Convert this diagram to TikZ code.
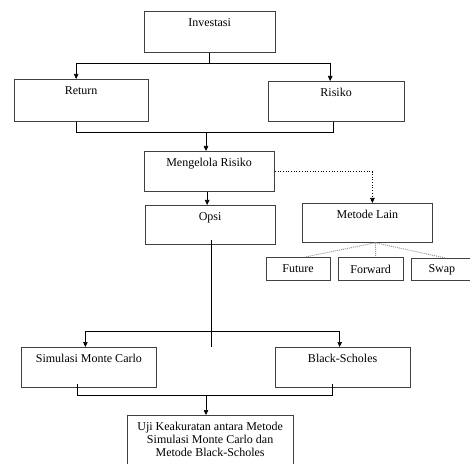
\documentclass[tikz,border=0pt]{standalone}
\usepackage{fontspec}
\setmainfont{Liberation Serif}
\usetikzlibrary{arrows.meta}

\tikzset{
  box/.style={draw=black!75,line width=0.8pt,anchor=north west,inner sep=0pt},
  toptext/.style={label={[anchor=north,yshift=-4pt,align=center,font=\fontsize{12}{13}\selectfont]north:#1}},
  smallbox/.style={draw=black!75,line width=0.8pt,anchor=north west,inner sep=0pt,font=\fontsize{12}{13}\selectfont},
  arr/.style={line width=0.7pt,-{Triangle[length=5pt,width=4.5pt]}},
  link/.style={line width=0.7pt},
  dotlink/.style={line width=0.7pt,dotted},
  fanlink/.style={line width=1pt,densely dotted,black!40}
}

\begin{document}
\begin{tikzpicture}[x=1pt,y=1pt]
  \useasboundingbox (0,0) rectangle (470,463);
  % boxes
  \node[box,toptext={Investasi},minimum width=131.5pt,minimum height=41pt] (inv) at (143.5,452) {};
  \node[box,toptext={Return},minimum width=134.5pt,minimum height=42pt] (ret) at (13.5,384) {};
  \node[box,toptext={Risiko},minimum width=136.5pt,minimum height=40pt] (ris) at (267.5,382) {};
  \node[box,toptext={Mengelola Risiko},minimum width=130.5pt,minimum height=40.5pt] (mgr) at (143.5,312) {};
  \node[box,toptext={Opsi},minimum width=130.5pt,minimum height=39pt] (ops) at (144.5,258) {};
  \node[box,toptext={Metode Lain},minimum width=130pt,minimum height=39pt] (mtd) at (302,260) {};
  \node[smallbox,minimum width=64.5pt,minimum height=23pt] (fut) at (265.5,206) {Future};
  \node[smallbox,minimum width=64.5pt,minimum height=23pt] (fwd) at (338,206) {Forward};
  \node[smallbox,minimum width=62pt,minimum height=22pt] (swp) at (410.5,205) {Swap};
  \node[box,toptext={Simulasi Monte Carlo},minimum width=135pt,minimum height=40pt] (sim) at (21,116) {};
  \node[box,toptext={Black-Scholes},minimum width=135.5pt,minimum height=40pt] (bls) at (274.5,116) {};
  \node[box,toptext={Uji Keakuratan antara Metode\\Simulasi Monte Carlo dan\\Metode Black-Scholes},minimum width=166.5pt,minimum height=52pt] (uji) at (126.5,48) {};

  % connectors
  \draw[arr] (inv.south) -- ++(0,-11) -| ([xshift=-5pt]ret.north);
  \draw[arr] (inv.south) -- ++(0,-11) -| ([xshift=-6pt]ris.north);
  \draw[link] ([xshift=-5pt]ret.south) -- ++(0,-11) -| ([xshift=-3pt]ris.south);
  \coordinate (j1) at (206,331);
  \draw[arr] (j1) -- (j1 |- mgr.north);
  \draw[arr] ([xshift=-2pt]mgr.south) -- ([xshift=-2pt]mgr.south |- ops.north);
  \draw[dotlink,-{Triangle[length=5pt,width=4.5pt]}] (mgr.east) -| ([xshift=5pt]mtd.north);
  \coordinate (fan) at ([xshift=8pt]mtd.south);
  \draw[fanlink] (fan) -- ([xshift=7pt]fut.north);
  \draw[fanlink] (fan) -- ([xshift=5pt]fwd.north);
  \draw[fanlink] (fan) -- ([xshift=3.5pt]swp.north);
  \draw[link] ([xshift=1pt,yshift=5pt]ops.south) -- ([xshift=1pt]ops.south |- sim.north);
  \coordinate (j2) at ([xshift=1pt]ops.south |- 0,132);
  \draw[arr] (j2) -| ([xshift=-3.5pt]sim.north);
  \draw[arr] (j2) -| ([xshift=-3pt]bls.north);
  \draw[link] ([xshift=-11.5pt,yshift=4pt]sim.south) -- ++(0,-12) -| ([xshift=-10pt,yshift=4pt]bls.south);
  \coordinate (j3) at (206,68);
  \draw[arr] (j3) -- (j3 |- uji.north);
\end{tikzpicture}
\end{document}
